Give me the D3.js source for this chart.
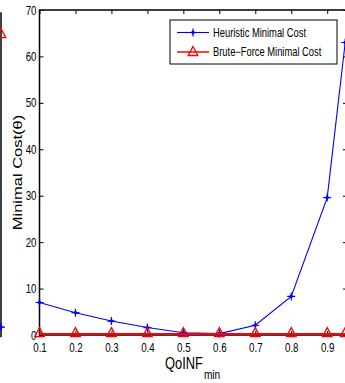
<!DOCTYPE html>
<html>
<head>
<meta charset="utf-8">
<script src="https://cdn.jsdelivr.net/npm/d3@7"></script>
<style>
  html, body { margin: 0; padding: 0; background: #fff; }
  text { font-family: "Liberation Sans", Arial, sans-serif; }
</style>
</head>
<body>
<svg id="chart" width="345" height="383"></svg>
<script>
// QoINF_min thresholds
const qoinf = [0.1, 0.2, 0.3, 0.4, 0.5, 0.6, 0.7, 0.8, 0.9, 0.95]
const heuristicCost = [7.0, 4.8, 3.0, 1.6, 0.5, 0.3, 2.1, 8.3, 29.6, 63.0]
const bruteCost = [0.2, 0.2, 0.2, 0.2, 0.2, 0.2, 0.2, 0.2, 0.2, 0.2]
const xTicks = [0.1, 0.2, 0.3, 0.4, 0.5, 0.6, 0.7, 0.8, 0.9]
const yTicks = [0, 10, 20, 30, 40, 50, 60, 70]
const seriesNames = ["Heuristic Minimal Cost", "Brute\u2212Force Minimal Cost"]
// last points of the neighbouring panel that peek in at the left edge
const neighbourX = [1.0]
const neighbourHeuristic = [1.7]
const neighbourBrute = [64.8]

const dimens = {width: 345, height: 383}
const margins = {left: 40, top: 10, right: -2, bottom: 48}
// the exported figure is squeezed horizontally
const squeeze = 0.78

const svg = d3.select("#chart")

const xScale = d3.scaleLinear()
  .domain([0.1, 0.955])
  .range([margins.left - 0.5, dimens.width - margins.right])
const yScale = d3.scaleLinear()
  .domain([0, 70])
  .range([dimens.height - margins.bottom, margins.top])
const neighbourScale = d3.scaleLinear()
  .domain([0.1, 1.0])
  .range([-300, 1])

const blue = "#0000ff"
const red = "#ff0000"

// squeeze text horizontally around its own x anchor
function condense(sel, k) {
  sel.each(function () {
    const x = +d3.select(this).attr("x") || 0
    d3.select(this).attr("transform", `translate(${x * (1 - k)},0) scale(${k},1)`)
  })
}

function plusMarker(sel, color) {
  sel.append("path")
    .attr("d", "M-4,0H4M0,-4V4")
    .attr("stroke", color)
    .attr("stroke-width", 1.2)
  sel.append("circle")
    .attr("r", 1.8)
    .attr("fill", color)
}

function triangleMarker(sel, color) {
  sel.append("path")
    .attr("d", "M0,-5.5L4.8,3.5L-4.8,3.5Z")
    .attr("fill", "none")
    .attr("stroke", color)
    .attr("stroke-width", 1.3)
}

// neighbouring panel edge
const nb = svg.append("g").attr("class", "neighbour")
nb.append("line")
  .attr("x1", neighbourScale(1.0)).attr("x2", neighbourScale(1.0))
  .attr("y1", yScale(69.5)).attr("y2", yScale(-0.5))
  .attr("stroke", "#000").attr("stroke-width", 1.5)
nb.selectAll(".nb-tri")
  .data(neighbourX)
  .join("g")
  .attr("transform", (d, i) => `translate(${neighbourScale(d)},${yScale(neighbourBrute[i])})`)
  .each(function () { triangleMarker(d3.select(this), red) })
nb.selectAll(".nb-plus")
  .data(neighbourX)
  .join("g")
  .attr("transform", (d, i) => `translate(${neighbourScale(d)},${yScale(neighbourHeuristic[i])})`)
  .each(function () { plusMarker(d3.select(this), blue) })

// axes box
const x0 = xScale.range()[0]
const x1 = xScale.range()[1]
const y0 = yScale.range()[0]
const y1 = yScale.range()[1]

const axes = svg.append("g").attr("class", "axes")

axes.append("g")
  .attr("transform", `translate(0,${y0})`)
  .call(d3.axisBottom(xScale).tickValues(xTicks).tickSize(-4).tickPadding(8).tickFormat(d3.format(".1f")))
  .call(g => g.select(".domain").remove())
axes.append("g")
  .attr("transform", `translate(0,${y1})`)
  .call(d3.axisTop(xScale).tickValues(xTicks).tickSize(-4).tickFormat(""))
  .call(g => g.select(".domain").remove())
axes.append("g")
  .attr("transform", `translate(${x0},0)`)
  .call(d3.axisLeft(yScale).tickValues(yTicks).tickSize(-4).tickPadding(3))
  .call(g => g.select(".domain").remove())
axes.append("g")
  .attr("transform", `translate(${x1},0)`)
  .call(d3.axisRight(yScale).tickValues(yTicks).tickSize(-4).tickFormat(""))
  .call(g => g.select(".domain").remove())

axes.selectAll(".tick line").attr("stroke", "#000").attr("stroke-width", 1)
axes.selectAll(".tick text")
  .attr("fill", "#000")
  .style("font-size", "12.5px")
  .call(condense, squeeze)

axes.append("rect")
  .attr("x", x0).attr("y", y1)
  .attr("width", x1 - x0).attr("height", y0 - y1)
  .attr("fill", "none")
  .attr("stroke", "#000")
  .attr("stroke-width", 1.5)

// series
const line = d3.line()
  .x((d, i) => xScale(qoinf[i]))
  .y(d => yScale(d))

svg.append("path")
  .datum(heuristicCost)
  .attr("d", line)
  .attr("fill", "none")
  .attr("stroke", blue)
  .attr("stroke-width", 1.1)

svg.selectAll(".h-marker")
  .data(heuristicCost)
  .join("g")
  .attr("class", "h-marker")
  .attr("transform", (d, i) => `translate(${xScale(qoinf[i])},${yScale(d)})`)
  .each(function () { plusMarker(d3.select(this), blue) })

svg.append("path")
  .datum(bruteCost)
  .attr("d", line)
  .attr("fill", "none")
  .attr("stroke", red)
  .attr("stroke-width", 2)

svg.selectAll(".b-marker")
  .data(bruteCost)
  .join("g")
  .attr("class", "b-marker")
  .attr("transform", (d, i) => `translate(${xScale(qoinf[i])},${yScale(d) - 1})`)
  .each(function () { triangleMarker(d3.select(this), red) })

// axis labels
const xLabel = svg.append("text")
  .attr("x", 165)
  .attr("y", 369)
  .attr("fill", "#000")
  .style("font-size", "16.5px")
  .text("QoINF")
const labelWidth = xLabel.node().getComputedTextLength() * squeeze
xLabel.call(condense, squeeze)

svg.append("text")
  .attr("x", 165 + labelWidth + 1)
  .attr("y", 379)
  .attr("fill", "#000")
  .style("font-size", "13px")
  .text("min")
  .call(condense, squeeze)

svg.append("text")
  .attr("transform", `translate(22,${(y0 + y1) / 2}) scale(${squeeze},1) rotate(-90)`)
  .attr("text-anchor", "middle")
  .attr("fill", "#000")
  .style("font-size", "16.5px")
  .text("Minimal Cost(\u03b8)")

// legend
const legend = svg.append("g").attr("transform", "translate(170,20)")
legend.append("rect")
  .attr("width", 167).attr("height", 44)
  .attr("fill", "#fff")
  .attr("stroke", "#000")
  .attr("stroke-width", 1)

const entries = legend.selectAll(".entry")
  .data(seriesNames)
  .join("g")
  .attr("transform", (d, i) => `translate(0,${12.5 + i * 19.5})`)

entries.append("line")
  .attr("x1", 7).attr("x2", 39)
  .attr("stroke", (d, i) => i === 0 ? blue : red)
  .attr("stroke-width", (d, i) => i === 0 ? 1.1 : 1.5)
entries.append("g")
  .attr("transform", "translate(23,0)")
  .each(function (d, i) {
    if (i === 0) plusMarker(d3.select(this), blue)
    else triangleMarker(d3.select(this), red)
  })
entries.append("text")
  .attr("x", 43)
  .attr("dy", "0.35em")
  .attr("fill", "#000")
  .style("font-size", "12px")
  .text(d => d)
  .call(condense, squeeze)
</script>
</body>
</html>
